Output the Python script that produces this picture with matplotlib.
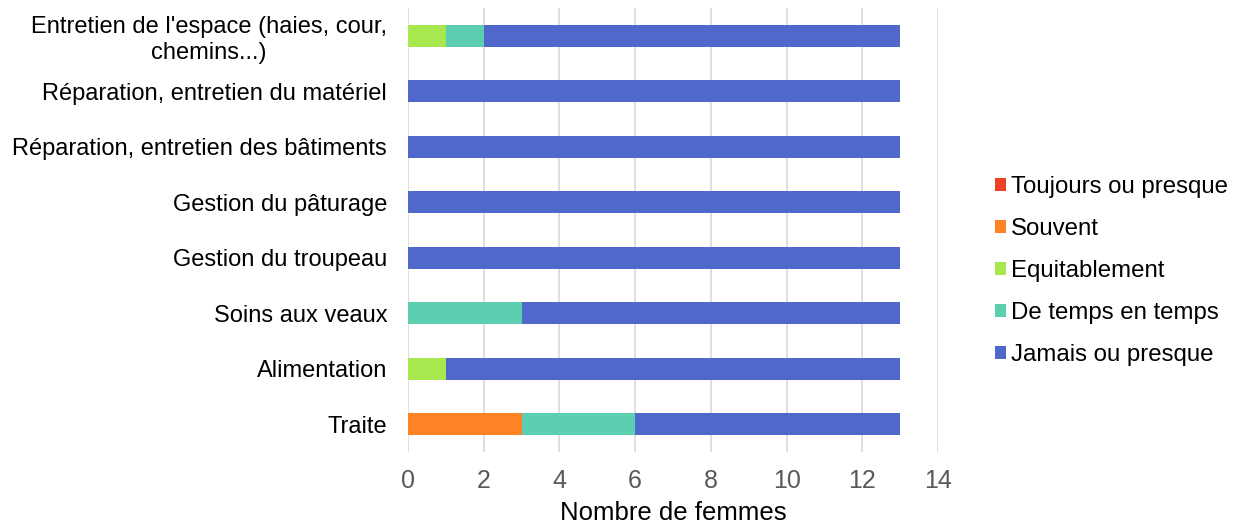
import numpy as np
import matplotlib.pyplot as plt

plt.rcParams['font.family'] = ['Liberation Sans', 'DejaVu Sans']

# donnees (de bas en haut)
categories = ['Traite', 'Alimentation', 'Soins aux veaux', 'Gestion du troupeau',
              'Gestion du pâturage', 'Réparation, entretien des bâtiments',
              'Réparation, entretien du matériel',
              "Entretien de l'espace (haies, cour,\nchemins...)"]
series_names = ['Toujours ou presque', 'Souvent', 'Equitablement',
                'De temps en temps', 'Jamais ou presque']
toujours = [0, 0, 0, 0, 0, 0, 0, 0]
souvent = [3, 0, 0, 0, 0, 0, 0, 0]
equitablement = [0, 1, 0, 0, 0, 0, 0, 1]
de_temps = [3, 0, 3, 0, 0, 0, 0, 1]
jamais = [7, 12, 10, 13, 13, 13, 13, 11]
colors = ['#EE4128', '#FF8225', '#A8E84F', '#5DCFB1', '#4F68C9']

fig = plt.figure(figsize=(12.44, 5.28), dpi=100)
ax = fig.add_axes([0.328, 0.144, 0.426, 0.841])

y = np.arange(len(categories))
left = np.zeros(len(categories))
for name, vals, c in zip(series_names, [toujours, souvent, equitablement, de_temps, jamais], colors):
    ax.barh(y, vals, left=left, height=0.4, color=c, label=name, zorder=3)
    left += np.array(vals)

ax.set_xlim(0, 14)
ax.set_ylim(-0.5, 7.5)
ax.set_xticks(range(0, 15, 2))
ax.set_yticks(y)
ax.set_yticklabels(categories, fontsize=17, multialignment='center', linespacing=1.25)
ax.tick_params(axis='y', length=0, pad=15)
ax.tick_params(axis='x', length=0, labelsize=18, labelcolor='#595959', pad=12)
ax.grid(axis='x', color='#D9D9D9', linewidth=1.2, zorder=0)
for s in ax.spines.values():
    s.set_visible(False)
ax.set_xlabel('Nombre de femmes', fontsize=18.5, labelpad=6)

h, l = ax.get_legend_handles_labels()
fig.legend(h, l, loc='center left', bbox_to_anchor=(0.8, 0.487), frameon=False,
           fontsize=17.3, handlelength=0.45, handleheight=0.45, handletextpad=0.2,
           labelspacing=0.83, borderpad=0, borderaxespad=0)

fig.savefig('out.png', dpi=100)
